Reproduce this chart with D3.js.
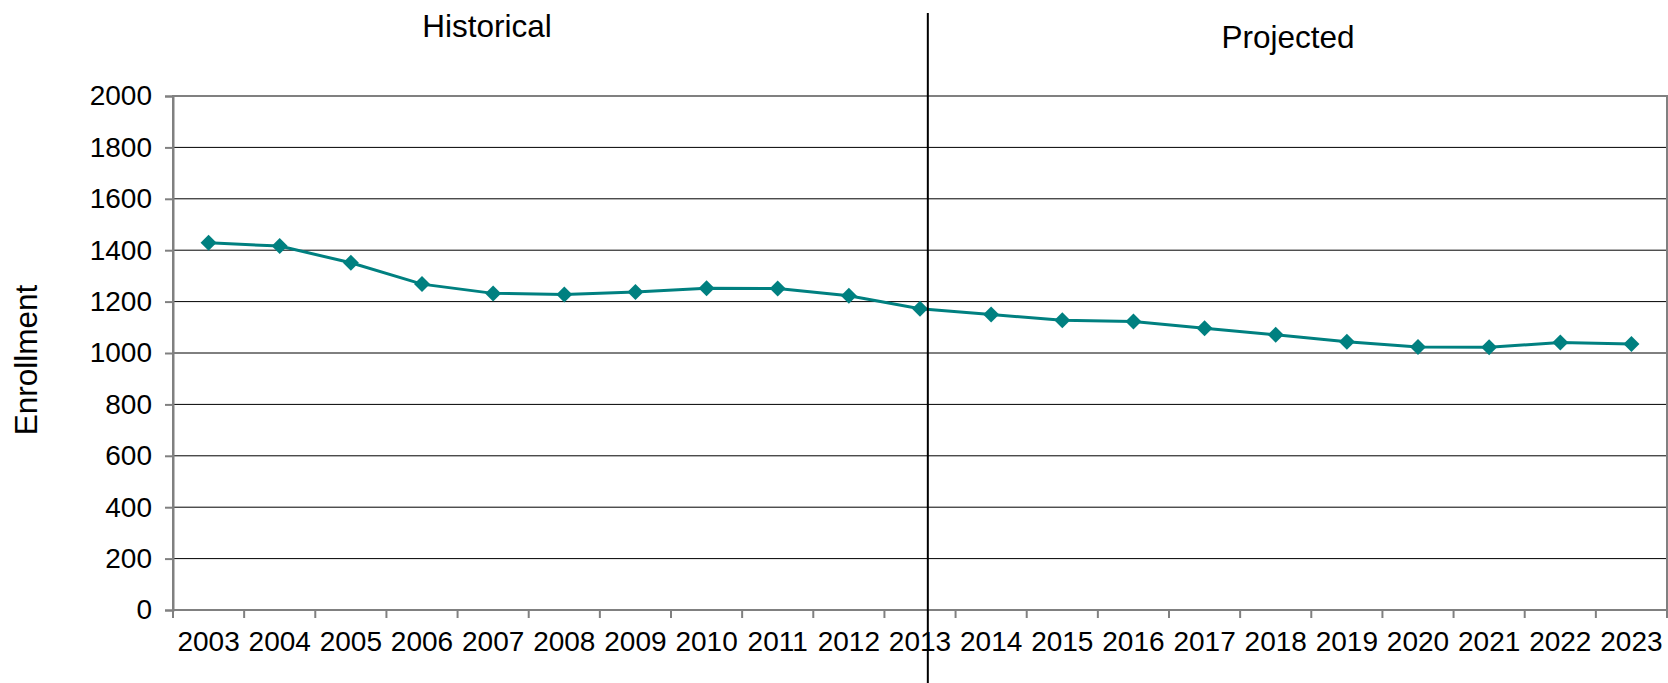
<!DOCTYPE html>
<html>
<head>
<meta charset="utf-8">
<script src="https://cdn.jsdelivr.net/npm/d3@7"></script>
<style>
  body { margin: 0; background: #fff; }
  text { font-family: "Liberation Sans", Arial, sans-serif; fill: #000; }
</style>
</head>
<body>
<div id="chart"></div>
<script>
// data
const years = ['2003', '2004', '2005', '2006', '2007', '2008', '2009', '2010', '2011', '2012', '2013',
               '2014', '2015', '2016', '2017', '2018', '2019', '2020', '2021', '2022', '2023'];
const enrollment = [1429, 1416, 1351, 1268, 1232, 1228, 1237, 1252, 1251, 1223, 1172,
                    1150, 1127, 1123, 1096, 1071, 1044, 1023, 1022, 1041, 1035];
const yTicks = [0, 200, 400, 600, 800, 1000, 1200, 1400, 1600, 1800, 2000];
const dividerYear = '2013';

const W = 1668, H = 683;
const margin = {top: 96, right: 1, bottom: 73, left: 173};
const width = W - margin.left - margin.right;
const height = H - margin.top - margin.bottom;

const svg = d3.select('#chart')
    .append('svg')
        .attr('width', W)
        .attr('height', H)
    .append('g')
        .attr('transform', `translate(${margin.left},${margin.top})`);

// scales
const x = d3.scaleBand().domain(years).range([0, width]).padding(0);
const y = d3.scaleLinear().domain([0, 2000]).range([height, 0]);
const cx = (d) => x(d) + x.bandwidth() / 2;

// horizontal grid lines
svg.append('g')
    .selectAll('line')
    .data(yTicks.filter(d => d > 0 && d < 2000))
    .join('line')
        .attr('x1', 0)
        .attr('x2', width)
        .attr('y1', d => y(d))
        .attr('y2', d => y(d))
        .attr('stroke', '#000')
        .attr('stroke-width', 1);

// plot border
svg.append('rect')
    .attr('x', 0)
    .attr('y', 0)
    .attr('width', width)
    .attr('height', height)
    .attr('fill', 'none')
    .attr('stroke', '#808080')
    .attr('stroke-width', 2);

// y axis
const yAxis = svg.append('g')
    .call(d3.axisLeft(y).tickValues(yTicks).tickFormat(d3.format('d')).tickSize(8).tickPadding(13));
yAxis.select('.domain').attr('stroke', '#808080').attr('stroke-width', 2);
yAxis.selectAll('.tick line').attr('stroke', '#808080').attr('stroke-width', 2);
yAxis.selectAll('.tick text')
    .style('font-size', '28px')
    .style('font-family', '"Liberation Sans", Arial, sans-serif')
    .attr('fill', '#000');

// x axis: ticks at category boundaries
const boundaries = years.map(d => x(d)).concat([width]);
svg.append('g')
    .selectAll('line')
    .data(boundaries)
    .join('line')
        .attr('x1', d => d)
        .attr('x2', d => d)
        .attr('y1', height)
        .attr('y2', height + 8)
        .attr('stroke', '#808080')
        .attr('stroke-width', 2);
svg.append('line')
    .attr('x1', 0).attr('x2', width)
    .attr('y1', height).attr('y2', height)
    .attr('stroke', '#808080')
    .attr('stroke-width', 2);
svg.append('g')
    .selectAll('text')
    .data(years)
    .join('text')
        .attr('x', d => cx(d))
        .attr('y', height + 41)
        .attr('text-anchor', 'middle')
        .style('font-size', '28px')
        .text(d => d);

// line
const line = d3.line()
    .x((d, i) => cx(years[i]))
    .y(d => y(d));
svg.append('path')
    .datum(enrollment)
    .attr('fill', 'none')
    .attr('stroke', '#008080')
    .attr('stroke-width', 3)
    .attr('d', line);

// diamond markers
svg.append('g')
    .selectAll('path')
    .data(enrollment)
    .join('path')
        .attr('transform', (d, i) => `translate(${cx(years[i])},${y(d)})`)
        .attr('d', 'M0,-8L8,0L0,8L-8,0Z')
        .attr('fill', '#008080');

// divider between historical and projected
const divX = x(dividerYear) + x.bandwidth() * 0.61;
svg.append('line')
    .attr('x1', divX).attr('x2', divX)
    .attr('y1', 13 - margin.top)
    .attr('y2', H - margin.top)
    .attr('stroke', '#000')
    .attr('stroke-width', 2);

// section labels
svg.append('text')
    .attr('x', 487 - margin.left)
    .attr('y', 37 - margin.top)
    .attr('text-anchor', 'middle')
    .style('font-size', '31.5px')
    .text('Historical');
svg.append('text')
    .attr('x', 1288 - margin.left)
    .attr('y', 48 - margin.top)
    .attr('text-anchor', 'middle')
    .style('font-size', '31.5px')
    .text('Projected');

// y axis title
svg.append('text')
    .attr('transform', `translate(${37 - margin.left},${360 - margin.top}) rotate(-90)`)
    .attr('text-anchor', 'middle')
    .style('font-size', '31.5px')
    .text('Enrollment');
</script>
</body>
</html>
